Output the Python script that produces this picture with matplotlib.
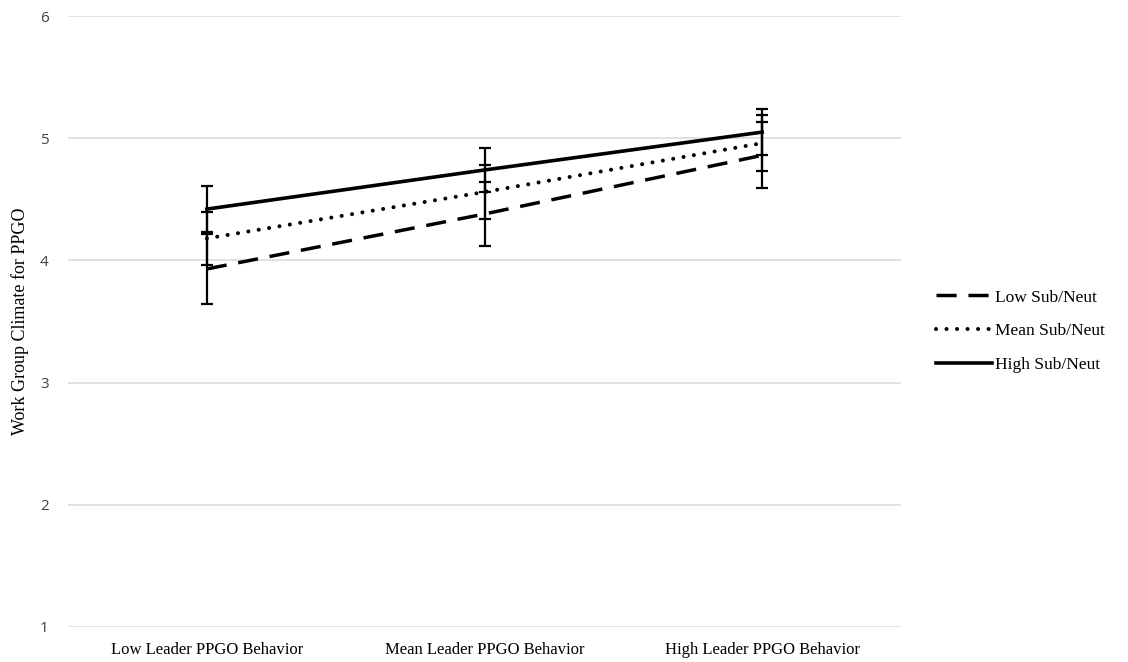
import numpy as np
import matplotlib.pyplot as plt

categories = ['Low Leader PPGO Behavior', 'Mean Leader PPGO Behavior', 'High Leader PPGO Behavior']
low_sub = [3.93, 4.38, 4.86]
mean_sub = [4.18, 4.56, 4.96]
high_sub = [4.42, 4.74, 5.05]
low_err = [0.29, 0.26, 0.27]
mean_err = [0.22, 0.22, 0.23]
high_err = [0.19, 0.18, 0.19]
labels = ['Low Sub/Neut', 'Mean Sub/Neut', 'High Sub/Neut']

fig = plt.figure(figsize=(11.28, 6.62), dpi=100)
ax = fig.add_axes([0.0603, 0.0529, 0.7385, 0.9229])

x = np.arange(len(categories))
series = [
    (low_sub, low_err, (0, (5.8, 3.4)), 'butt', 2.5),
    (mean_sub, mean_err, (0, (0.01, 2.6)), 'round', 2.9),
    (high_sub, high_err, '-', 'butt', 2.6),
]
handles = []
for (vals, err, ls, cap, lw), lab in zip(series, labels):
    ax.errorbar(x, vals, yerr=err, fmt='none', ecolor='black',
                elinewidth=1.6, capsize=4.5, capthick=1.6, zorder=3)
    line, = ax.plot(x, vals, color='black', linewidth=lw, linestyle=ls,
                    dash_capstyle=cap, label=lab, zorder=4)
    handles.append(line)

ax.set_xlim(-0.5, 2.5)
ax.set_ylim(1, 6)
ax.set_yticks([1, 2, 3, 4, 5, 6])
ax.set_xticks(x)
ax.set_xticklabels(categories, fontfamily='Liberation Serif', fontsize=12)
for t in ax.get_yticklabels():
    t.set_fontfamily('Open Sans')
    t.set_fontsize(11)
    t.set_color('#404040')
ax.tick_params(length=0, pad=14, axis='y')
ax.tick_params(length=0, pad=11, axis='x')
ax.yaxis.grid(True, color='#d9d9d9', linewidth=1.1)
ax.set_axisbelow(True)
for s in ax.spines.values():
    s.set_visible(False)
ax.set_ylabel('Work Group Climate for PPGO', fontfamily='Liberation Serif',
              fontsize=13, labelpad=8)

fig.legend(handles=handles, labels=labels, loc='center left',
           bbox_to_anchor=(0.816, 0.5), frameon=False,
           prop={'family': 'Liberation Serif', 'size': 12.5},
           handlelength=3.2, handletextpad=0.2, labelspacing=1.0)

fig.savefig('out.png', dpi=100)
